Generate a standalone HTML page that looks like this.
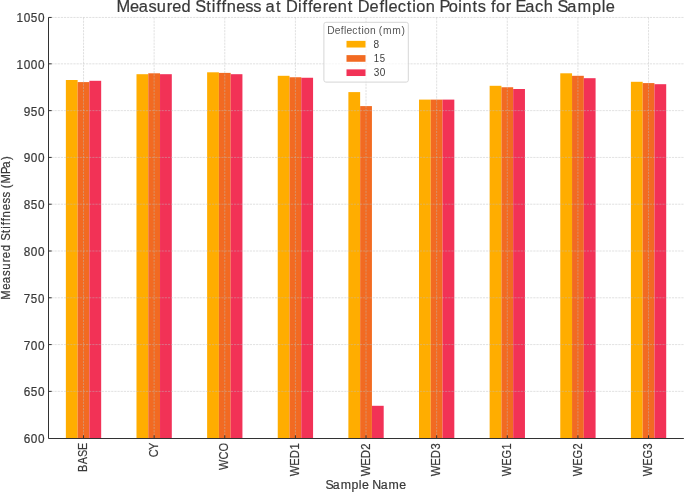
<!DOCTYPE html><html><head><meta charset="utf-8"><style>html,body{margin:0;padding:0;background:#fff;overflow:hidden}svg{display:block;will-change:transform}text{font-family:"Liberation Sans", sans-serif;font-kerning:none;white-space:pre;stroke-width:0.2px}</style></head><body>
<svg width="685" height="492" viewBox="0 0 685 492">
<defs><filter id="bl" filterUnits="userSpaceOnUse" x="0" y="0" width="685" height="492"><feGaussianBlur stdDeviation="0.4"/></filter></defs>
<rect x="0" y="0" width="685" height="492" fill="#ffffff"/>
<g filter="url(#bl)">
<rect x="65.86" y="80.00" width="11.77" height="358.50" fill="#FFAD00"/>
<rect x="77.63" y="82.10" width="11.77" height="356.40" fill="#F26B21"/>
<rect x="89.40" y="80.80" width="11.77" height="357.70" fill="#F23157"/>
<rect x="136.49" y="74.20" width="11.77" height="364.30" fill="#FFAD00"/>
<rect x="148.26" y="73.30" width="11.77" height="365.20" fill="#F26B21"/>
<rect x="160.03" y="74.20" width="11.77" height="364.30" fill="#F23157"/>
<rect x="207.12" y="72.30" width="11.77" height="366.20" fill="#FFAD00"/>
<rect x="218.89" y="72.90" width="11.77" height="365.60" fill="#F26B21"/>
<rect x="230.66" y="74.20" width="11.77" height="364.30" fill="#F23157"/>
<rect x="277.75" y="75.80" width="11.77" height="362.70" fill="#FFAD00"/>
<rect x="289.52" y="77.25" width="11.77" height="361.25" fill="#F26B21"/>
<rect x="301.29" y="77.75" width="11.77" height="360.75" fill="#F23157"/>
<rect x="348.38" y="92.10" width="11.77" height="346.40" fill="#FFAD00"/>
<rect x="360.15" y="106.10" width="11.77" height="332.40" fill="#F26B21"/>
<rect x="371.92" y="405.80" width="11.77" height="32.70" fill="#F23157"/>
<rect x="419.01" y="99.60" width="11.77" height="338.90" fill="#FFAD00"/>
<rect x="430.78" y="99.60" width="11.77" height="338.90" fill="#F26B21"/>
<rect x="442.55" y="99.60" width="11.77" height="338.90" fill="#F23157"/>
<rect x="489.64" y="85.80" width="11.77" height="352.70" fill="#FFAD00"/>
<rect x="501.41" y="87.25" width="11.77" height="351.25" fill="#F26B21"/>
<rect x="513.18" y="89.00" width="11.77" height="349.50" fill="#F23157"/>
<rect x="560.27" y="73.30" width="11.77" height="365.20" fill="#FFAD00"/>
<rect x="572.04" y="75.80" width="11.77" height="362.70" fill="#F26B21"/>
<rect x="583.81" y="78.20" width="11.77" height="360.30" fill="#F23157"/>
<rect x="630.90" y="81.80" width="11.77" height="356.70" fill="#FFAD00"/>
<rect x="642.67" y="83.10" width="11.77" height="355.40" fill="#F26B21"/>
<rect x="654.44" y="84.20" width="11.77" height="354.30" fill="#F23157"/>
<path d="M48.20 391.37H683.87 M48.20 344.58H683.87 M48.20 297.79H683.87 M48.20 251.00H683.87 M48.20 204.21H683.87 M48.20 157.42H683.87 M48.20 110.63H683.87 M48.20 63.84H683.87 M48.20 17.45H683.87 M83.52 17.45V438.50 M154.14 17.45V438.50 M224.77 17.45V438.50 M295.40 17.45V438.50 M366.03 17.45V438.50 M436.66 17.45V438.50 M507.29 17.45V438.50 M577.92 17.45V438.50 M648.55 17.45V438.50" stroke="#bcbcbc" stroke-opacity="0.65" stroke-width="0.7" stroke-dasharray="2.2 0.95" fill="none"/>
<path d="M48.5 17.45V438.5H683.87" stroke="#333" stroke-width="1" fill="none"/>
<path d="M48.5 391.37h3.2 M48.5 344.58h3.2 M48.5 297.79h3.2 M48.5 251.00h3.2 M48.5 204.21h3.2 M48.5 157.42h3.2 M48.5 110.63h3.2 M48.5 63.84h3.2 M48.5 17.45h3.2 M83.52 438.5v-3.2 M154.14 438.5v-3.2 M224.77 438.5v-3.2 M295.40 438.5v-3.2 M366.03 438.5v-3.2 M436.66 438.5v-3.2 M507.29 438.5v-3.2 M577.92 438.5v-3.2 M648.55 438.5v-3.2" stroke="#333" stroke-width="1" fill="none"/>
<text transform="scale(0.9870,1)" x="24.01 31.22 38.44" y="443.21" font-size="11.96" fill="#383838" stroke="#383838">600</text>
<text transform="scale(0.9870,1)" x="24.01 31.18 38.44" y="396.42" font-size="11.96" fill="#383838" stroke="#383838">650</text>
<text transform="scale(0.9870,1)" x="23.98 31.22 38.44" y="349.63" font-size="11.96" fill="#383838" stroke="#383838">700</text>
<text transform="scale(0.9655,1)" x="24.59 31.95 39.38" y="302.84" font-size="11.96" fill="#383838" stroke="#383838">750</text>
<text transform="scale(0.9870,1)" x="24.01 31.22 38.44" y="256.05" font-size="11.96" fill="#383838" stroke="#383838">800</text>
<text transform="scale(0.9870,1)" x="24.01 31.18 38.44" y="209.26" font-size="11.96" fill="#383838" stroke="#383838">850</text>
<text transform="scale(0.9870,1)" x="23.97 31.22 38.44" y="162.47" font-size="11.96" fill="#383838" stroke="#383838">900</text>
<text transform="scale(0.9870,1)" x="23.97 31.18 38.44" y="115.68" font-size="11.96" fill="#383838" stroke="#383838">950</text>
<text transform="scale(0.9870,1)" x="16.72 24.01 31.22 38.44" y="68.89" font-size="11.96" fill="#383838" stroke="#383838">1000</text>
<text transform="scale(0.9870,1)" x="16.72 24.01 31.18 38.44" y="22.10" font-size="11.96" fill="#383838" stroke="#383838">1050</text>
<text transform="translate(87.11,0) rotate(-90) scale(0.8879,1)" x="-531.56 -522.95 -514.60 -506.74" y="0" font-size="12.20" fill="#383838" stroke="#383838">BASE</text>
<text transform="translate(157.74,0) rotate(-90) scale(0.9018,1)" x="-507.16 -498.89" y="0" font-size="12.20" fill="#383838" stroke="#383838">CY</text>
<text transform="translate(228.37,0) rotate(-90) scale(0.9011,1)" x="-521.68 -509.95 -501.03" y="0" font-size="12.20" fill="#383838" stroke="#383838">WCO</text>
<text transform="translate(299.00,0) rotate(-90) scale(0.9201,1)" x="-517.68 -506.20 -497.98 -488.54" y="0" font-size="12.20" fill="#383838" stroke="#383838">WED1</text>
<text transform="translate(369.63,0) rotate(-90) scale(0.9286,1)" x="-513.00 -501.61 -493.47 -484.21" y="0" font-size="12.20" fill="#383838" stroke="#383838">WED2</text>
<text transform="translate(440.26,0) rotate(-90) scale(0.9252,1)" x="-514.86 -503.44 -495.27 -485.80" y="0" font-size="12.20" fill="#383838" stroke="#383838">WED3</text>
<text transform="translate(510.89,0) rotate(-90) scale(0.9011,1)" x="-528.58 -516.89 -508.84 -498.81" y="0" font-size="12.20" fill="#383838" stroke="#383838">WEG1</text>
<text transform="translate(581.52,0) rotate(-90) scale(0.9011,1)" x="-528.58 -516.89 -508.84 -498.92" y="0" font-size="12.20" fill="#383838" stroke="#383838">WEG2</text>
<text transform="translate(652.15,0) rotate(-90) scale(0.9011,1)" x="-528.58 -516.89 -508.84 -498.74" y="0" font-size="12.20" fill="#383838" stroke="#383838">WEG3</text>
<text transform="scale(1.0287,1)" x="316.39 323.51 331.14 341.79 348.82 351.80 358.55 361.90 370.05 377.68 388.18" y="488.70" font-size="12.02" fill="#383838" stroke="#383838">Sample Name</text>
<text transform="translate(10.00,0) rotate(-90) scale(0.9496,1)" x="-315.69 -305.16 -298.26 -290.61 -284.13 -276.27 -271.94 -264.55 -257.35 -253.65 -245.27 -240.88 -237.29 -233.07 -228.96 -221.47 -214.27 -208.03 -202.00 -198.14 -193.32 -183.33 -176.57 -168.49" y="0" font-size="11.95" fill="#383838" stroke="#383838">Measured Stiffness (MPa)</text>
<text transform="scale(1.0286,1)" x="113.25 126.40 134.88 144.38 152.32 162.13 167.35 176.47 185.69 189.83 200.40 205.84 210.23 215.43 220.34 229.57 238.49 246.18 253.92 258.14 268.31 273.46 278.10 289.82 294.21 299.41 304.18 313.79 319.02 328.25 337.97 343.13 347.77 359.34 368.86 373.78 377.74 386.59 395.46 400.90 404.80 414.03 423.12 427.19 436.28 445.52 449.61 459.34 464.46 472.19 477.46 482.18 491.79 497.21 501.19 510.76 520.19 528.67 537.78 541.93 551.38 561.50 575.65 584.97 588.93" y="11.50" font-size="15.96" fill="#383838" stroke="#383838">Measured Stiffness at Different Deflection Points for Each Sample</text>
<rect x="323.9" y="22.3" width="84.4" height="59.8" rx="2" ry="2" fill="#ffffff" fill-opacity="0.7" stroke="#d6d6d6" stroke-width="1"/>
<text transform="scale(0.9879,1)" x="331.27 338.81 345.02 348.22 350.80 356.57 362.35 365.89 368.44 374.45 380.37 383.32 387.58 396.95 406.36" y="33.60" font-size="10.40" fill="#555555">Deflection (mm)</text>
<rect x="346.5" y="40.87" width="19" height="6.65" fill="#FFAD00"/>
<text transform="scale(0.9977,1)" x="374.46" y="48.00" font-size="10.15" fill="#3c3c3c">8</text>
<rect x="346.5" y="55.12" width="19" height="6.65" fill="#F26B21"/>
<text transform="scale(0.9427,1)" x="396.43 402.85" y="62.00" font-size="10.15" fill="#3c3c3c">15</text>
<rect x="346.5" y="69.37" width="19" height="6.65" fill="#F23157"/>
<text transform="scale(0.9870,1)" x="378.56 384.67" y="76.00" font-size="10.15" fill="#3c3c3c">30</text>
</g></svg></body></html>
